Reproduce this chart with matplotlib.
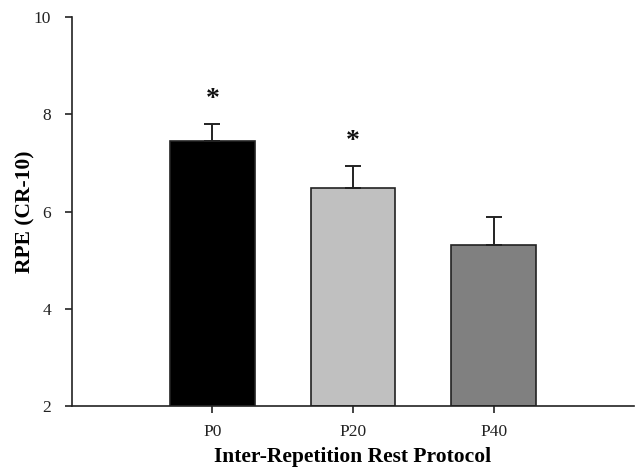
import matplotlib
matplotlib.use("Agg")
import matplotlib.pyplot as plt

protocols = ["P0", "P20", "P40"]
rpe_mean = [7.44, 6.48, 5.31]
rpe_sd = [0.35, 0.45, 0.57]
bar_colors = ["#000000", "#c0c0c0", "#808080"]
significant = [True, True, False]

plt.rcParams['font.family'] = ['Liberation Serif', 'DejaVu Serif']

fig = plt.figure(figsize=(6.36, 4.69), dpi=100)
ax = fig.add_axes([0.113, 0.134, 0.884, 0.830])

x = list(range(len(protocols)))
ax.bar(x, [m - 2 for m in rpe_mean], bottom=2, width=0.6, color=bar_colors,
       edgecolor="#222222", linewidth=1.2, zorder=2)
ax.errorbar(x, rpe_mean, yerr=[[0] * len(x), rpe_sd], fmt="none",
            ecolor="#222222", elinewidth=1.4, capsize=6, capthick=1.4, zorder=3)

for xi, m, s, sig in zip(x, rpe_mean, rpe_sd, significant):
    if sig:
        ax.text(xi, m + s + 0.25, "*", ha="center", va="bottom",
                fontsize=20, fontweight="bold", color="#111111")

ax.set_xlim(-1, 3)
ax.set_ylim(2, 10)
ax.set_yticks([2, 4, 6, 8, 10])
ax.set_xticks(x)
ax.set_xticklabels(protocols)
ax.spines["top"].set_visible(False)
ax.spines["right"].set_visible(False)
for sp in ("left", "bottom"):
    ax.spines[sp].set_color("#222222")
    ax.spines[sp].set_linewidth(1.2)
ax.tick_params(axis="both", direction="out", length=5, width=1.2,
               colors="#222222", labelsize=12.5)
ax.tick_params(axis="y", pad=10)
ax.tick_params(axis="x", pad=8)

ax.set_ylabel("RPE (CR-10)", fontsize=15.5, fontweight="bold", va="center")
ax.set_xlabel("Inter-Repetition Rest Protocol", fontsize=15.5, fontweight="bold", va="center")
ax.yaxis.set_label_coords(-0.083, 0.5)
ax.xaxis.set_label_coords(0.5, -0.131)

fig.savefig("out.png", dpi=100)
